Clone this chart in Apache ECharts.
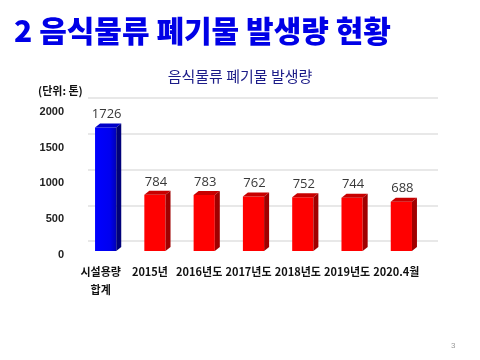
<!DOCTYPE html>
<html>
<head>
<meta charset="utf-8">
<script src="https://cdn.jsdelivr.net/npm/echarts@6/dist/echarts.min.js"></script>
<style>
html,body{margin:0;padding:0;background:#fff;}
#chart{width:480px;height:360px;}
</style>
</head>
<body>
<div id="chart"></div>
<script>
const categories = ['시설용량\n합계', '2015년', '2016년도', '2017년도', '2018년도', '2019년도', '2020.4월'];
const values = [1726, 784, 783, 762, 752, 744, 688];
const yMin = 0, yMax = 2000, yInterval = 500;

const pageTitle = '2 음식물류 폐기물 발생량 현황';
const chartTitle = '음식물류 폐기물 발생량';
const unitText = '(단위: 톤)';
const pageNo = '3';

const KR = '"Noto Sans CJK KR","Liberation Sans",sans-serif';

const palettes = [
  {front: {type:'linear',x:0,y:0,x2:1,y2:0,colorStops:[{offset:0,color:'#0000ff'},{offset:0.7,color:'#0000f0'},{offset:1,color:'#0000b8'}]}, top:'#0000c8', side:'#00007a'},
  {front: '#ff0000', top:'#c80000', side:'#a00000'}
];

function renderItem(params, api) {
  const idx = api.value(0);
  const v = api.value(1);
  const top = api.coord([idx, v]);
  const base = api.coord([idx, 0]);
  const w = api.size([1, 0])[0] * 0.43;
  const x0 = top[0] - w / 2, x1 = top[0] + w / 2;
  const dx = 5, dy = 4;
  const p = idx === 0 ? palettes[0] : palettes[1];
  return {
    type: 'group',
    children: [
      {type:'rect', shape:{x:x0, y:top[1], width:w, height:base[1]-top[1]}, style:{fill:p.front}},
      {type:'polygon', shape:{points:[[x0,top[1]],[x0+dx,top[1]-dy],[x1+dx,top[1]-dy],[x1,top[1]]]}, style:{fill:p.top}},
      {type:'polygon', shape:{points:[[x1,top[1]],[x1+dx,top[1]-dy],[x1+dx,base[1]-dy],[x1,base[1]]]}, style:{fill:p.side}},
      {type:'text', x: top[0] + 1, y: top[1] - dy - 9, style:{text: String(v), fill:'#383838', font:'13px "Open Sans","Liberation Sans",sans-serif', align:'center', verticalAlign:'middle'}}
    ]
  };
}

const chart = echarts.init(document.getElementById('chart'), null, {renderer:'canvas'});
chart.setOption({
  animation: false,
  backgroundColor: '#ffffff',
  title: [
    {text: pageTitle, left: 9, top: 11, textStyle:{fontFamily:KR, fontSize:30, fontWeight:900, color:'#0000e6'}},
    {text: chartTitle, left: 'center', top: 64, textStyle:{fontFamily:KR, fontSize:15, fontWeight:'normal', color:'#1c1c88'}},
    {text: unitText, left: 33, top: 80, textStyle:{fontFamily:KR, fontSize:11, fontWeight:'bold', color:'#111'}},
    {text: pageNo, left: 446, top: 337, textStyle:{fontFamily:'"Liberation Sans",sans-serif', fontSize:8, fontWeight:'normal', color:'#999'}}
  ],
  grid: [
    {left: 81, right: 54, top: 107.8, bottom: 109, containLabel: false},
    {left: 88, right: 42, top: 98, bottom: 119, containLabel: false}
  ],
  xAxis: [
    {type:'category', gridIndex:0, data: categories,
     axisLine:{show:false}, axisTick:{show:false}, splitLine:{show:false},
     axisLabel:{interval:0, margin:12, fontFamily:KR, fontSize:11, fontWeight:'bold', lineHeight:18, color:'#111', padding:[0,10,0,0]}},
    {type:'value', gridIndex:1, min:0, max:1, show:false}
  ],
  yAxis: [
    {type:'value', gridIndex:0, min:yMin, max:yMax, interval:yInterval,
     axisLine:{show:false}, axisTick:{show:false}, splitLine:{show:false},
     axisLabel:{margin:17, formatter: (v) => String(v), fontFamily:'"Liberation Sans",Arial,sans-serif', fontSize:11, fontWeight:'bold', color:'#222', verticalAlign:'top', lineHeight:8}},
    {type:'value', gridIndex:1, min:yMin, max:yMax, interval:yInterval,
     axisLine:{show:false}, axisTick:{show:false}, axisLabel:{show:false},
     splitLine:{show:true, lineStyle:{color:'#e8e8e8', width:2}}}
  ],
  series: [
    {type:'custom', xAxisIndex:0, yAxisIndex:0, renderItem: renderItem,
     data: values.map((v, i) => [i, v]), z: 5},
    {type:'scatter', xAxisIndex:1, yAxisIndex:1, data: [], silent:true}
  ]
});
</script>
</body>
</html>
